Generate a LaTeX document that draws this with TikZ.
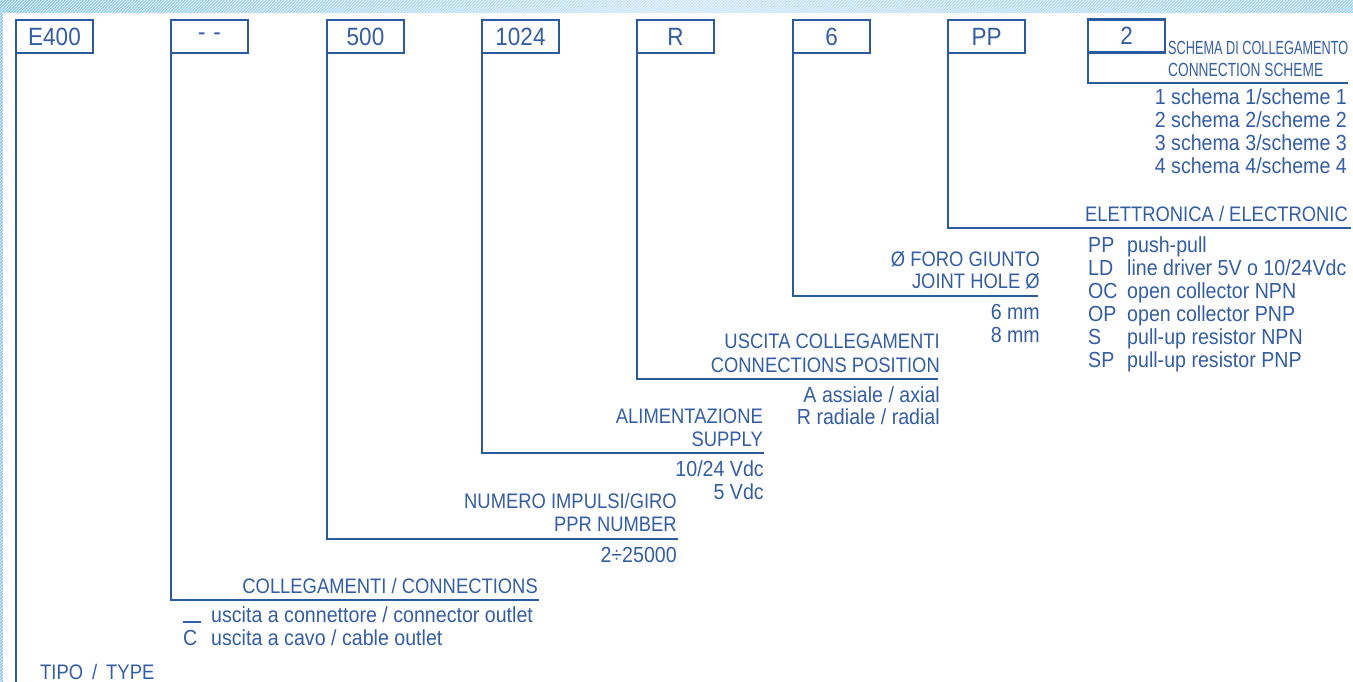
\documentclass[tikz,border=0pt]{standalone}
\usepackage{fontspec}
\usepackage{graphicx}
\setmainfont{Liberation Sans}
\newfontfamily\ttlfont[FakeStretch=0.876]{Liberation Sans}
\newfontfamily\itmfont[FakeStretch=0.9]{Liberation Sans}
\usetikzlibrary{patterns}
\definecolor{lineblue}{RGB}{44,90,158}
\definecolor{textblue}{RGB}{52,94,163}
\definecolor{bandA}{RGB}{140,202,240}
\definecolor{bandB}{RGB}{205,232,249}
\definecolor{bandC}{RGB}{160,212,243}
\begin{document}
\begin{tikzpicture}[x=1pt,y=-1pt,
  codebox/.style={draw=lineblue,line width=2.3pt,minimum width=77pt,minimum height=33pt,
    inner sep=0pt,outer sep=0pt,text=textblue,font=\itmfont\fontsize{25}{25}\selectfont},
  conn/.style={draw=lineblue,line width=2.8pt,line join=miter,line cap=rect},
  ttl/.style={inner sep=0pt,text=textblue,font=\ttlfont\fontsize{21}{23}\selectfont},
  cnd/.style={inner sep=0pt,text=textblue,font=\fontsize{19}{23}\selectfont},
  itm/.style={inner sep=0pt,text=textblue,font=\itmfont\fontsize{21.8}{23}\selectfont}]
\useasboundingbox (0,0) rectangle (1353,682);
% background
\fill[left color=bandA,right color=bandC,middle color=bandB] (0,0) rectangle (1353,682);
\fill[pattern=north east lines,pattern color=white!70!bandB] (0,0) rectangle (1353,13);
\fill[pattern=north east lines,pattern color=white!70!bandB] (0,13) rectangle (3,682);
\fill[white] (3,13) rectangle (1353,682);
% boxes
\node[codebox] (b1) at (54.5,36.5) {E400};
\node[codebox] (b2) at (209.5,36.5) {-\hspace{8pt}-};
\node[codebox] (b3) at (365.5,36.5) {500};
\node[codebox] (b4) at (520.5,36.5) {1024};
\node[codebox] (b5) at (675.5,36.5) {R};
\node[codebox] (b6) at (831.5,36.5) {6};
\node[codebox] (b7) at (986.5,36.5) {PP};
\node[codebox] (b8) at (1126.5,36) {2};
% line ends
\coordinate (e1) at (17,682);
\coordinate (e2) at (538,600);
\coordinate (e3) at (677,539);
\coordinate (e4) at (763,453);
\coordinate (e5) at (937,379);
\coordinate (e6) at (1037,296);
\coordinate (e7) at (1350,228);
\coordinate (e8) at (1347,83);
% connectors
\draw[conn] (b1.south west) -- (b1.south west |- e1);
\draw[conn] (b2.south west) |- (e2);
\draw[conn] (b3.south west) |- (e3);
\draw[conn] (b4.south west) |- (e4);
\draw[conn] (b5.south west) |- (e5);
\draw[conn] (b6.south west) |- (e6);
\draw[conn] (b7.south west) |- (e7);
\draw[conn] (b8.south west) |- (e8);
% TYPE
\node[ttl,anchor=base west] (t1) at (40,679) {TIPO\hspace{9pt}/\hspace{9pt}TYPE};
% connections
\node[ttl,anchor=base east] (t2) at (538,593) {COLLEGAMENTI / CONNECTIONS};
\node[itm,anchor=base west] (i2a) at (183,622) {\rule[-0.5pt]{18pt}{1.4pt}};
\node[itm,anchor=base west] (i2b) at (211,622) {uscita a connettore / connector outlet};
\node[itm,anchor=base west] (i2c) at (183,645) {C};
\node[itm,anchor=base west] (i2d) at (211,645) {uscita a cavo / cable outlet};
% PPR
\node[ttl,anchor=base east] (t3a) at (677,508) {NUMERO IMPULSI/GIRO};
\node[ttl,anchor=base east] (t3b) at (677,531) {PPR NUMBER};
\node[itm,anchor=base east] (i3a) at (677,562) {2÷25000};
% supply
\node[ttl,anchor=base east] (t4a) at (763,423) {ALIMENTAZIONE};
\node[ttl,anchor=base east] (t4b) at (763,446) {SUPPLY};
\node[itm,anchor=base east] (i4a) at (764,476) {10/24 Vdc};
\node[itm,anchor=base east] (i4b) at (764,499) {5 Vdc};
% position
\node[ttl,anchor=base east] (t5a) at (940,348) {USCITA COLLEGAMENTI};
\node[ttl,anchor=base east] (t5b) at (940,372) {CONNECTIONS POSITION};
\node[itm,anchor=base east] (i5a) at (940,402) {A assiale / axial};
\node[itm,anchor=base east] (i5b) at (940,424) {R radiale / radial};
% joint hole
\node[ttl,anchor=base east] (t6a) at (1040,266) {Ø FORO GIUNTO};
\node[ttl,anchor=base east] (t6b) at (1040,288) {JOINT HOLE Ø};
\node[itm,anchor=base east] (i6a) at (1040,319) {6 mm};
\node[itm,anchor=base east] (i6b) at (1040,342) {8 mm};
% electronic
\node[ttl,anchor=base east] (t7) at (1348,222) {ELETTRONICA / ELECTRONIC};
\node[itm,anchor=base west] (c7a) at (1088,252.5) {PP};
\node[itm,anchor=base west] (d7a) at (1127,252.5) {push-pull};
\node[itm,anchor=base west] (c7b) at (1088,275.4) {LD};
\node[itm,anchor=base west] (d7b) at (1127,275.4) {line driver 5V o 10/24Vdc};
\node[itm,anchor=base west] (c7c) at (1088,298.3) {OC};
\node[itm,anchor=base west] (d7c) at (1127,298.3) {open collector NPN};
\node[itm,anchor=base west] (c7d) at (1088,321.2) {OP};
\node[itm,anchor=base west] (d7d) at (1127,321.2) {open collector PNP};
\node[itm,anchor=base west] (c7e) at (1088,344.1) {S};
\node[itm,anchor=base west] (d7e) at (1127,344.1) {pull-up resistor NPN};
\node[itm,anchor=base west] (c7f) at (1088,367) {SP};
\node[itm,anchor=base west] (d7f) at (1127,367) {pull-up resistor PNP};
% scheme
\node[cnd,anchor=base west] (t8a) at (1168,55) {\resizebox{180pt}{\height}{SCHEMA DI COLLEGAMENTO}};
\node[cnd,anchor=base west] (t8b) at (1168,77) {\resizebox{155pt}{\height}{CONNECTION SCHEME}};
\node[itm,anchor=base east] (i8a) at (1347,105) {1 schema 1/scheme 1};
\node[itm,anchor=base east] (i8b) at (1347,127.8) {2 schema 2/scheme 2};
\node[itm,anchor=base east] (i8c) at (1347,150.6) {3 schema 3/scheme 3};
\node[itm,anchor=base east] (i8d) at (1347,173.4) {4 schema 4/scheme 4};
\end{tikzpicture}
\end{document}
